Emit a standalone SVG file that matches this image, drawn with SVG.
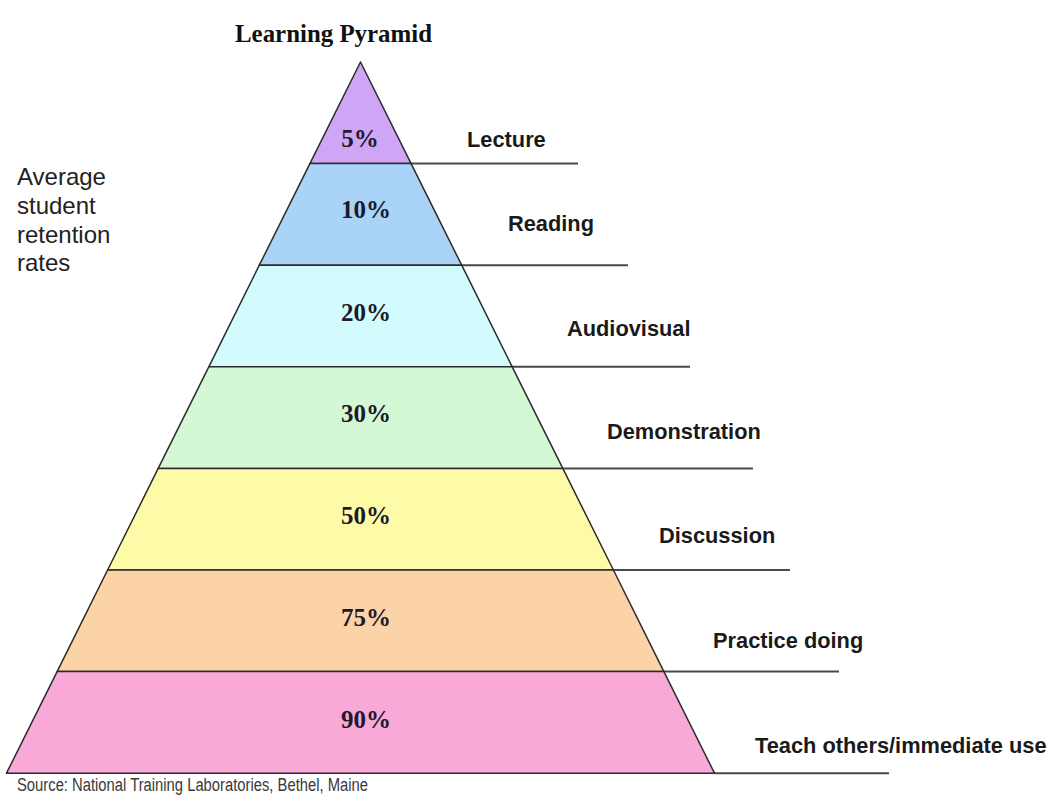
<svg xmlns="http://www.w3.org/2000/svg" width="1051" height="803" viewBox="0 0 1051 803">
<style>
.lvl{stroke:#2b2b2b;stroke-width:1.5;stroke-linejoin:round}
.pct{font-family:"Liberation Serif","Times New Roman",serif;font-weight:bold;font-size:25px;fill:#1c1a2c;text-anchor:middle}
.lab{font-family:"Liberation Sans",Arial,sans-serif;font-weight:bold;font-size:21.8px;fill:#1a1a1a}
.con line{stroke:#4a4a4a;stroke-width:2}
</style>
<rect width="1051" height="803" fill="#ffffff"/>
<text x="235" y="42" font-family="Liberation Serif,'Times New Roman',serif" font-weight="bold" font-size="26" fill="#111" textLength="197" lengthAdjust="spacingAndGlyphs">Learning Pyramid</text>
<g id="side-caption" font-family="Liberation Sans,Arial,sans-serif" font-size="24" fill="#222">
<text x="17" y="185">Average</text>
<text x="17" y="214">student</text>
<text x="17" y="243">retention</text>
<text x="17" y="271">rates</text>
</g>
<g id="connectors" class="con">
<line x1="411" y1="163.6" x2="578" y2="163.6"/>
<line x1="461.7" y1="265.2" x2="628" y2="265.2"/>
<line x1="512.2" y1="366.8" x2="690" y2="366.8"/>
<line x1="562.8" y1="468.4" x2="753" y2="468.4"/>
<line x1="613.4" y1="570" x2="790" y2="570"/>
<line x1="663.9" y1="671.6" x2="839" y2="671.6"/>
<line x1="714.5" y1="773.2" x2="889" y2="773.2"/>
</g>
<g id="level-lecture">
<polygon class="lvl" fill="#cfa6f5" points="360.5,62 411.1,163.6 309.9,163.6"/>
<text class="pct" x="360" y="147">5%</text>
<text class="lab" x="467" y="147">Lecture</text>
</g>
<g id="level-reading">
<polygon class="lvl" fill="#a9d3f7" points="309.9,163.6 411.1,163.6 461.7,265.2 259.3,265.2"/>
<text class="pct" x="366" y="218">10%</text>
<text class="lab" x="508" y="231">Reading</text>
</g>
<g id="level-audiovisual">
<polygon class="lvl" fill="#d2fbfd" points="259.3,265.2 461.7,265.2 512.2,366.8 208.8,366.8"/>
<text class="pct" x="366" y="321">20%</text>
<text class="lab" x="567" y="336">Audiovisual</text>
</g>
<g id="level-demonstration">
<polygon class="lvl" fill="#d4f7d4" points="208.8,366.8 512.2,366.8 562.8,468.4 158.2,468.4"/>
<text class="pct" x="366" y="422">30%</text>
<text class="lab" x="607" y="439">Demonstration</text>
</g>
<g id="level-discussion">
<polygon class="lvl" fill="#fdfaa8" points="158.2,468.4 562.8,468.4 613.4,570 107.6,570"/>
<text class="pct" x="366" y="524">50%</text>
<text class="lab" x="659" y="543">Discussion</text>
</g>
<g id="level-practice">
<polygon class="lvl" fill="#fcd3a6" points="107.6,570 613.4,570 663.9,671.6 57.1,671.6"/>
<text class="pct" x="366" y="626">75%</text>
<text class="lab" x="713" y="648">Practice doing</text>
</g>
<g id="level-teach">
<polygon class="lvl" fill="#f9a9d7" points="57.1,671.6 663.9,671.6 714.5,773.2 6.5,773.2"/>
<text class="pct" x="366" y="728">90%</text>
<text class="lab" x="755" y="753">Teach others/immediate use</text>
</g>
<text x="17" y="791" font-family="Liberation Sans,Arial,sans-serif" font-size="18" fill="#3a3a3a" textLength="351" lengthAdjust="spacingAndGlyphs">Source: National Training Laboratories, Bethel, Maine</text>
</svg>
